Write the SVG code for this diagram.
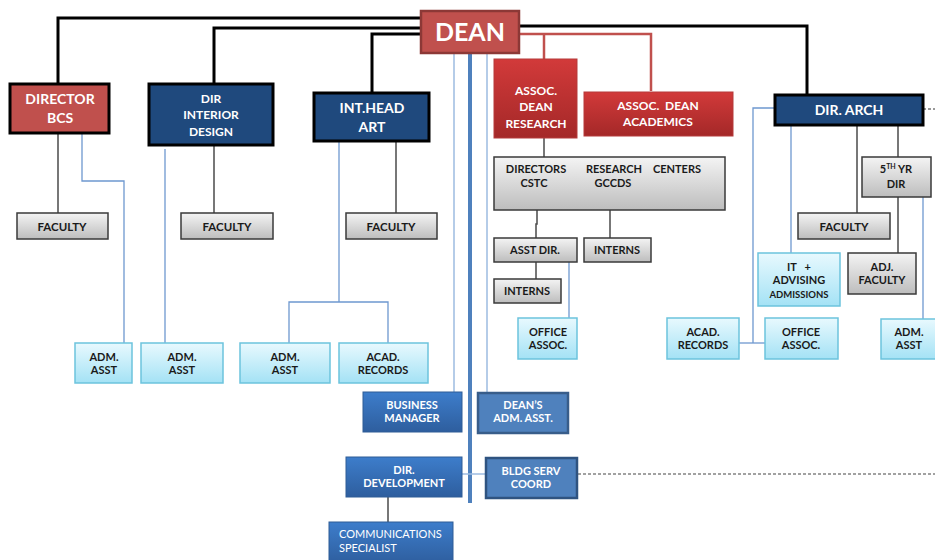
<svg xmlns="http://www.w3.org/2000/svg" width="935" height="560" viewBox="0 0 935 560">
<defs>
<linearGradient id="gGray" x1="0" y1="0" x2="0" y2="1"><stop offset="0" stop-color="#F4F4F4"/><stop offset="1" stop-color="#BDBDBD"/></linearGradient>
<linearGradient id="gLB" x1="0" y1="0" x2="0" y2="1"><stop offset="0" stop-color="#E8F9FE"/><stop offset="1" stop-color="#A4E2F5"/></linearGradient>
<linearGradient id="gRed" x1="0" y1="0" x2="0" y2="1"><stop offset="0" stop-color="#D23A3A"/><stop offset="1" stop-color="#A42828"/></linearGradient>
<linearGradient id="gBlue" x1="0" y1="0" x2="0" y2="1"><stop offset="0" stop-color="#3D7DCB"/><stop offset="1" stop-color="#2E5E9E"/></linearGradient>
</defs>
<style>
text{font-family:Lato,"Liberation Sans",sans-serif;font-weight:bold;text-anchor:middle}
.w{fill:#FFFFFF}
.d{fill:#1A1A1A}
.gray{fill:url(#gGray);stroke:#3A3A3A;stroke-width:1.5}
.lb{fill:url(#gLB);stroke:#6CC3DD;stroke-width:1.5}
.navy{fill:#1F497D;stroke:#000;stroke-width:3}
.blk{fill:none;stroke:#000;stroke-width:3}
.red{fill:none;stroke:#C0504D;stroke-width:2.5}
.dk{fill:none;stroke:#4A4A4A;stroke-width:1.5}
.bl{fill:none;stroke:#6E98CF;stroke-width:1.3}
.bl2{fill:none;stroke:#9DBBE0;stroke-width:1.5}
</style>
<rect width="935" height="560" fill="#FFFFFF"/>
<g id="connectors">
<polyline class="blk" points="420,18 58,18 58,83"/>
<polyline class="blk" points="420,28 214,28 214,83"/>
<polyline class="blk" points="420,34 372,34 372,92"/>
<polyline class="blk" points="520,26 807,26 807,94"/>
<polyline class="red" points="520,34 651,34 651,91"/>
<line class="red" x1="544" y1="34" x2="544" y2="59"/>
<line class="dk" x1="58" y1="133" x2="58" y2="213"/>
<line class="dk" x1="214" y1="145" x2="214" y2="213"/>
<line class="dk" x1="396" y1="141" x2="396" y2="213"/>
<polyline class="bl" points="82,133 82,181 124,181 124,343"/>
<line class="bl" x1="165" y1="149" x2="165" y2="343"/>
<polyline class="bl" points="339,141 339,302"/>
<polyline class="bl" points="289,343 289,302 388,302 388,343"/>
<line class="dk" x1="544" y1="138" x2="544" y2="157"/>
<polyline class="dk" points="537,210 537,224 536,224 536,238"/>
<line class="dk" x1="610" y1="210" x2="610" y2="238"/>
<line class="dk" x1="536" y1="262" x2="536" y2="279"/>
<line class="bl" x1="569" y1="262" x2="569" y2="318"/>
<polyline class="bl" points="774,108 753,108 753,343"/>
<line class="bl" x1="739" y1="343" x2="765" y2="343"/>
<line class="bl" x1="791" y1="125" x2="791" y2="253"/>
<line class="dk" x1="857" y1="125" x2="857" y2="213"/>
<line class="dk" x1="898" y1="125" x2="898" y2="157"/>
<line class="dk" x1="898" y1="197" x2="898" y2="253"/>
<line class="bl" x1="923" y1="197" x2="923" y2="319"/>
<line x1="923" y1="109" x2="935" y2="109" stroke="#333" stroke-width="1" stroke-dasharray="3,2"/>
<line class="bl2" x1="454" y1="53" x2="454" y2="392"/>
<line x1="470" y1="53" x2="470" y2="503" stroke="#4F81BD" stroke-width="4"/>
<line class="bl2" x1="487" y1="53" x2="487" y2="392"/>
<line class="bl2" x1="454" y1="474" x2="485" y2="474"/>
<line x1="578" y1="474" x2="935" y2="474" stroke="#444" stroke-width="1.2" stroke-dasharray="3,2"/>
<line class="dk" x1="388" y1="497" x2="388" y2="522"/>
</g>
<g id="dean">
<rect x="421" y="11" width="98" height="42" fill="#C0504D" stroke="#8C3836" stroke-width="2.5"/>
<text x="470" y="41" class="w" font-size="25">DEAN</text>
</g>
<g id="director-bcs">
<rect x="10" y="84" width="99" height="49" fill="#C0504D" stroke="#000" stroke-width="3"/>
<text x="60" y="104" class="w" font-size="14">DIRECTOR</text>
<text x="60" y="123" class="w" font-size="14">BCS</text>
</g>
<g id="dir-interior">
<rect x="149" y="84" width="124" height="61" class="navy"/>
<text x="211" y="103" class="w" font-size="12">DIR</text>
<text x="211" y="119" class="w" font-size="12">INTERIOR</text>
<text x="211" y="136" class="w" font-size="12">DESIGN</text>
</g>
<g id="int-head-art">
<rect x="314" y="93" width="115" height="48" class="navy"/>
<text x="372" y="113" class="w" font-size="14">INT.HEAD</text>
<text x="372" y="132" class="w" font-size="14">ART</text>
</g>
<g id="assoc-dean-research">
<rect x="494" y="59" width="83" height="79" fill="url(#gRed)" stroke="#B53A3A" stroke-width="1"/>
<text x="536" y="95" class="w" font-size="12">ASSOC.</text>
<text x="536" y="111" class="w" font-size="12">DEAN</text>
<text x="536" y="128" class="w" font-size="12">RESEARCH</text>
</g>
<g id="assoc-dean-academics">
<rect x="584" y="92" width="149" height="44" fill="url(#gRed)" stroke="#B53A3A" stroke-width="1"/>
<text x="658" y="110" class="w" font-size="12" xml:space="preserve">ASSOC.  DEAN</text>
<text x="658" y="126" class="w" font-size="12">ACADEMICS</text>
</g>
<g id="dir-arch">
<rect x="775" y="95" width="148" height="30" class="navy"/>
<text x="849" y="115" class="w" font-size="14">DIR. ARCH</text>
</g>
<g id="faculty-bcs">
<rect x="17" y="213" width="91" height="26" class="gray"/>
<text x="62" y="231" class="d" font-size="11.5">FACULTY</text>
</g>
<g id="faculty-interior">
<rect x="181" y="213" width="92" height="26" class="gray"/>
<text x="227" y="231" class="d" font-size="11.5">FACULTY</text>
</g>
<g id="faculty-art">
<rect x="346" y="213" width="91" height="26" class="gray"/>
<text x="391" y="231" class="d" font-size="11.5">FACULTY</text>
</g>
<g id="adm-asst-bcs">
<rect x="75" y="343" width="57" height="40" class="lb"/>
<text x="104" y="361" class="d" font-size="11">ADM.</text>
<text x="104" y="374" class="d" font-size="11">ASST</text>
</g>
<g id="adm-asst-interior">
<rect x="141" y="343" width="82" height="40" class="lb"/>
<text x="182" y="361" class="d" font-size="11">ADM.</text>
<text x="182" y="374" class="d" font-size="11">ASST</text>
</g>
<g id="adm-asst-art">
<rect x="240" y="343" width="90" height="40" class="lb"/>
<text x="285" y="361" class="d" font-size="11">ADM.</text>
<text x="285" y="374" class="d" font-size="11">ASST</text>
</g>
<g id="acad-records-art">
<rect x="339" y="343" width="89" height="40" class="lb"/>
<text x="383" y="361" class="d" font-size="11">ACAD.</text>
<text x="383" y="374" class="d" font-size="11">RECORDS</text>
</g>
<g id="research-centers">
<rect x="494" y="157" width="231" height="53" class="gray"/>
<text x="536" y="173" class="d" font-size="11">DIRECTORS</text>
<text x="614" y="173" class="d" font-size="11">RESEARCH</text>
<text x="677" y="173" class="d" font-size="11">CENTERS</text>
<text x="534" y="187" class="d" font-size="11">CSTC</text>
<text x="613" y="187" class="d" font-size="11">GCCDS</text>
</g>
<g id="asst-dir">
<rect x="494" y="238" width="83" height="24" class="gray"/>
<text x="535" y="254" class="d" font-size="11">ASST DIR.</text>
</g>
<g id="interns-right">
<rect x="584" y="238" width="67" height="24" class="gray"/>
<text x="617" y="254" class="d" font-size="11">INTERNS</text>
</g>
<g id="interns-left">
<rect x="494" y="279" width="67" height="24" class="gray"/>
<text x="527" y="295" class="d" font-size="11">INTERNS</text>
</g>
<g id="office-assoc-research">
<rect x="518" y="318" width="59" height="41" class="lb"/>
<text x="548" y="336" class="d" font-size="11">OFFICE</text>
<text x="548" y="349" class="d" font-size="11">ASSOC.</text>
</g>
<g id="acad-records-arch">
<rect x="667" y="318" width="72" height="41" class="lb"/>
<text x="703" y="336" class="d" font-size="11">ACAD.</text>
<text x="703" y="349" class="d" font-size="11">RECORDS</text>
</g>
<g id="office-assoc-arch">
<rect x="765" y="318" width="73" height="41" class="lb"/>
<text x="801" y="336" class="d" font-size="11">OFFICE</text>
<text x="801" y="349" class="d" font-size="11">ASSOC.</text>
</g>
<g id="it-advising">
<rect x="758" y="253" width="82" height="53" class="lb"/>
<text x="799" y="271" class="d" font-size="11" xml:space="preserve">IT   +</text>
<text x="799" y="284" class="d" font-size="11">ADVISING</text>
<text x="799" y="298" class="d" font-size="9.5">ADMISSIONS</text>
</g>
<g id="fifth-yr-dir">
<rect x="862" y="157" width="69" height="40" class="gray"/>
<text x="896" y="173" class="d" font-size="11">5<tspan font-size="7" dy="-4">TH</tspan><tspan dy="4"> YR</tspan></text>
<text x="896" y="188" class="d" font-size="11">DIR</text>
</g>
<g id="faculty-arch">
<rect x="798" y="213" width="92" height="26" class="gray"/>
<text x="844" y="231" class="d" font-size="11.5">FACULTY</text>
</g>
<g id="adj-faculty">
<rect x="848" y="253" width="68" height="41" class="gray"/>
<text x="882" y="271" class="d" font-size="11">ADJ.</text>
<text x="882" y="284" class="d" font-size="11">FACULTY</text>
</g>
<g id="adm-asst-arch">
<rect x="881" y="319" width="60" height="40" class="lb"/>
<text x="909" y="336" class="d" font-size="11">ADM.</text>
<text x="909" y="349" class="d" font-size="11">ASST</text>
</g>
<g id="business-manager">
<rect x="363" y="392" width="99" height="40" fill="url(#gBlue)" stroke="#2F5C96" stroke-width="1"/>
<text x="412" y="409" class="w" font-size="11">BUSINESS</text>
<text x="412" y="422" class="w" font-size="11">MANAGER</text>
</g>
<g id="deans-adm-asst">
<rect x="478" y="393" width="90" height="40" fill="#4F81BD" stroke="#385D8A" stroke-width="2.5"/>
<text x="523" y="409" class="w" font-size="11">DEAN’S</text>
<text x="523" y="422" class="w" font-size="11">ADM. ASST.</text>
</g>
<g id="dir-development">
<rect x="346" y="457" width="116" height="40" fill="url(#gBlue)" stroke="#2F5C96" stroke-width="1"/>
<text x="404" y="474" class="w" font-size="11">DIR.</text>
<text x="404" y="487" class="w" font-size="11">DEVELOPMENT</text>
</g>
<g id="bldg-serv-coord">
<rect x="486" y="458" width="91" height="40" fill="#4F81BD" stroke="#2F5380" stroke-width="2.5"/>
<text x="531" y="475" class="w" font-size="11">BLDG SERV</text>
<text x="531" y="488" class="w" font-size="11">COORD</text>
</g>
<g id="communications-specialist">
<rect x="329" y="522" width="124" height="42" fill="url(#gBlue)" stroke="#2F5C96" stroke-width="1"/>
<text x="339" y="538" class="w" font-size="11" style="text-anchor:start;font-weight:normal">COMMUNICATIONS</text>
<text x="339" y="552" class="w" font-size="11" style="text-anchor:start;font-weight:normal">SPECIALIST</text>
</g>
</svg>
